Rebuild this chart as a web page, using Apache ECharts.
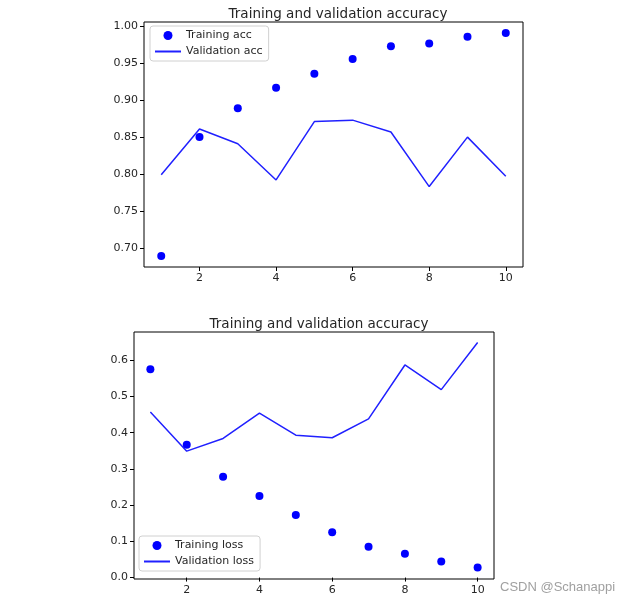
<!DOCTYPE html>
<html>
<head>
<meta charset="utf-8">
<script src="https://cdn.jsdelivr.net/npm/echarts@6/dist/echarts.min.js"></script>
<style>
  html, body { margin: 0; padding: 0; background: #fff; }
  #chart { width: 640px; height: 605px; }
</style>
</head>
<body>
<div id="chart"></div>
<script>
// epochs and history values
const epochs = [1, 2, 3, 4, 5, 6, 7, 8, 9, 10];
const trainAcc = [0.689, 0.850, 0.889, 0.917, 0.936, 0.956, 0.973, 0.977, 0.986, 0.991];
const valAcc = [0.799, 0.861, 0.841, 0.792, 0.871, 0.873, 0.857, 0.783, 0.850, 0.797];
const trainLoss = [0.575, 0.367, 0.278, 0.225, 0.173, 0.125, 0.085, 0.066, 0.044, 0.028];
const valLoss = [0.457, 0.349, 0.384, 0.454, 0.393, 0.386, 0.438, 0.587, 0.519, 0.649];
const xTicks = [2, 4, 6, 8, 10];
const accTicks = [0.70, 0.75, 0.80, 0.85, 0.90, 0.95, 1.00];
const lossTicks = [0.0, 0.1, 0.2, 0.3, 0.4, 0.5, 0.6];

const pairs = (ys) => epochs.map((x, i) => [x, ys[i]]);

const chart = echarts.init(document.getElementById('chart'));
const font = '"DejaVu Sans", sans-serif';
const textColor = '#262626';
const blue = '#0000ff';
const lineBlue = '#2020ff';

const xAxisBase = (gridIndex) => ({
  type: 'value',
  gridIndex,
  min: 0.55,
  max: 10.45,
  axisLine: { show: false },
  splitLine: { show: false },
  axisTick: { show: true, length: 4, lineStyle: { color: '#000' }, customValues: xTicks },
  axisLabel: { color: textColor, fontSize: 11, fontFamily: font, margin: 6, customValues: xTicks }
});

const yAxisBase = (gridIndex, min, max, ticks, digits) => ({
  type: 'value',
  gridIndex,
  min,
  max,
  axisLine: { show: false },
  splitLine: { show: false },
  axisTick: { show: true, length: 4, lineStyle: { color: '#000' }, customValues: ticks },
  axisLabel: {
    color: textColor, fontSize: 11, fontFamily: font, margin: 6, customValues: ticks,
    formatter: (v) => v.toFixed(digits)
  }
});

const legendBase = {
  orient: 'vertical',
  backgroundColor: '#fff',
  borderColor: '#d0d0d0',
  borderWidth: 1,
  borderRadius: 3,
  padding: [4, 6, 4, 4],
  itemGap: 5,
  itemWidth: 26,
  itemHeight: 9,
  textStyle: { color: textColor, fontSize: 11, fontFamily: font }
};

const titleStyle = { fontSize: 13.5, fontWeight: 'normal', color: textColor, fontFamily: font };

const option = {
  animation: false,
  title: [
    { text: 'Training and validation accuracy', left: 333, top: 2, textAlign: 'center', textStyle: titleStyle },
    { text: 'Training and validation accuracy', left: 314, top: 312, textAlign: 'center', textStyle: titleStyle }
  ],
  grid: [
    { left: 144, top: 22, width: 379, height: 245, show: true, borderColor: '#000', borderWidth: 1 },
    { left: 134, top: 332, width: 360, height: 247, show: true, borderColor: '#000', borderWidth: 1 }
  ],
  legend: [
    Object.assign({}, legendBase, {
      left: 150, top: 26,
      data: [
        { name: 'Training acc', icon: 'circle' },
        { name: 'Validation acc', itemStyle: { opacity: 0 } }
      ]
    }),
    Object.assign({}, legendBase, {
      left: 139, top: 536,
      data: [
        { name: 'Training loss', icon: 'circle' },
        { name: 'Validation loss', itemStyle: { opacity: 0 } }
      ]
    })
  ],
  xAxis: [xAxisBase(0), xAxisBase(1)],
  yAxis: [
    yAxisBase(0, 0.674, 1.006, accTicks, 2),
    yAxisBase(1, -0.004, 0.678, lossTicks, 1)
  ],
  series: [
    { name: 'Training acc', type: 'scatter', xAxisIndex: 0, yAxisIndex: 0,
      symbolSize: 8, itemStyle: { color: blue, opacity: 1 }, data: pairs(trainAcc) },
    { name: 'Validation acc', type: 'line', xAxisIndex: 0, yAxisIndex: 0,
      symbol: 'none', lineStyle: { color: lineBlue, width: 1.5 }, itemStyle: { color: lineBlue },
      data: pairs(valAcc) },
    { name: 'Training loss', type: 'scatter', xAxisIndex: 1, yAxisIndex: 1,
      symbolSize: 8, itemStyle: { color: blue, opacity: 1 }, data: pairs(trainLoss) },
    { name: 'Validation loss', type: 'line', xAxisIndex: 1, yAxisIndex: 1,
      symbol: 'none', lineStyle: { color: lineBlue, width: 1.5 }, itemStyle: { color: lineBlue },
      data: pairs(valLoss) }
  ],
  graphic: [
    { type: 'text', left: 500, top: 581,
      style: { text: 'CSDN @Schanappi', fill: '#a0a0a0', font: '13px "Liberation Sans", Arial, sans-serif' } }
  ]
};

chart.setOption(option);
</script>
</body>
</html>
